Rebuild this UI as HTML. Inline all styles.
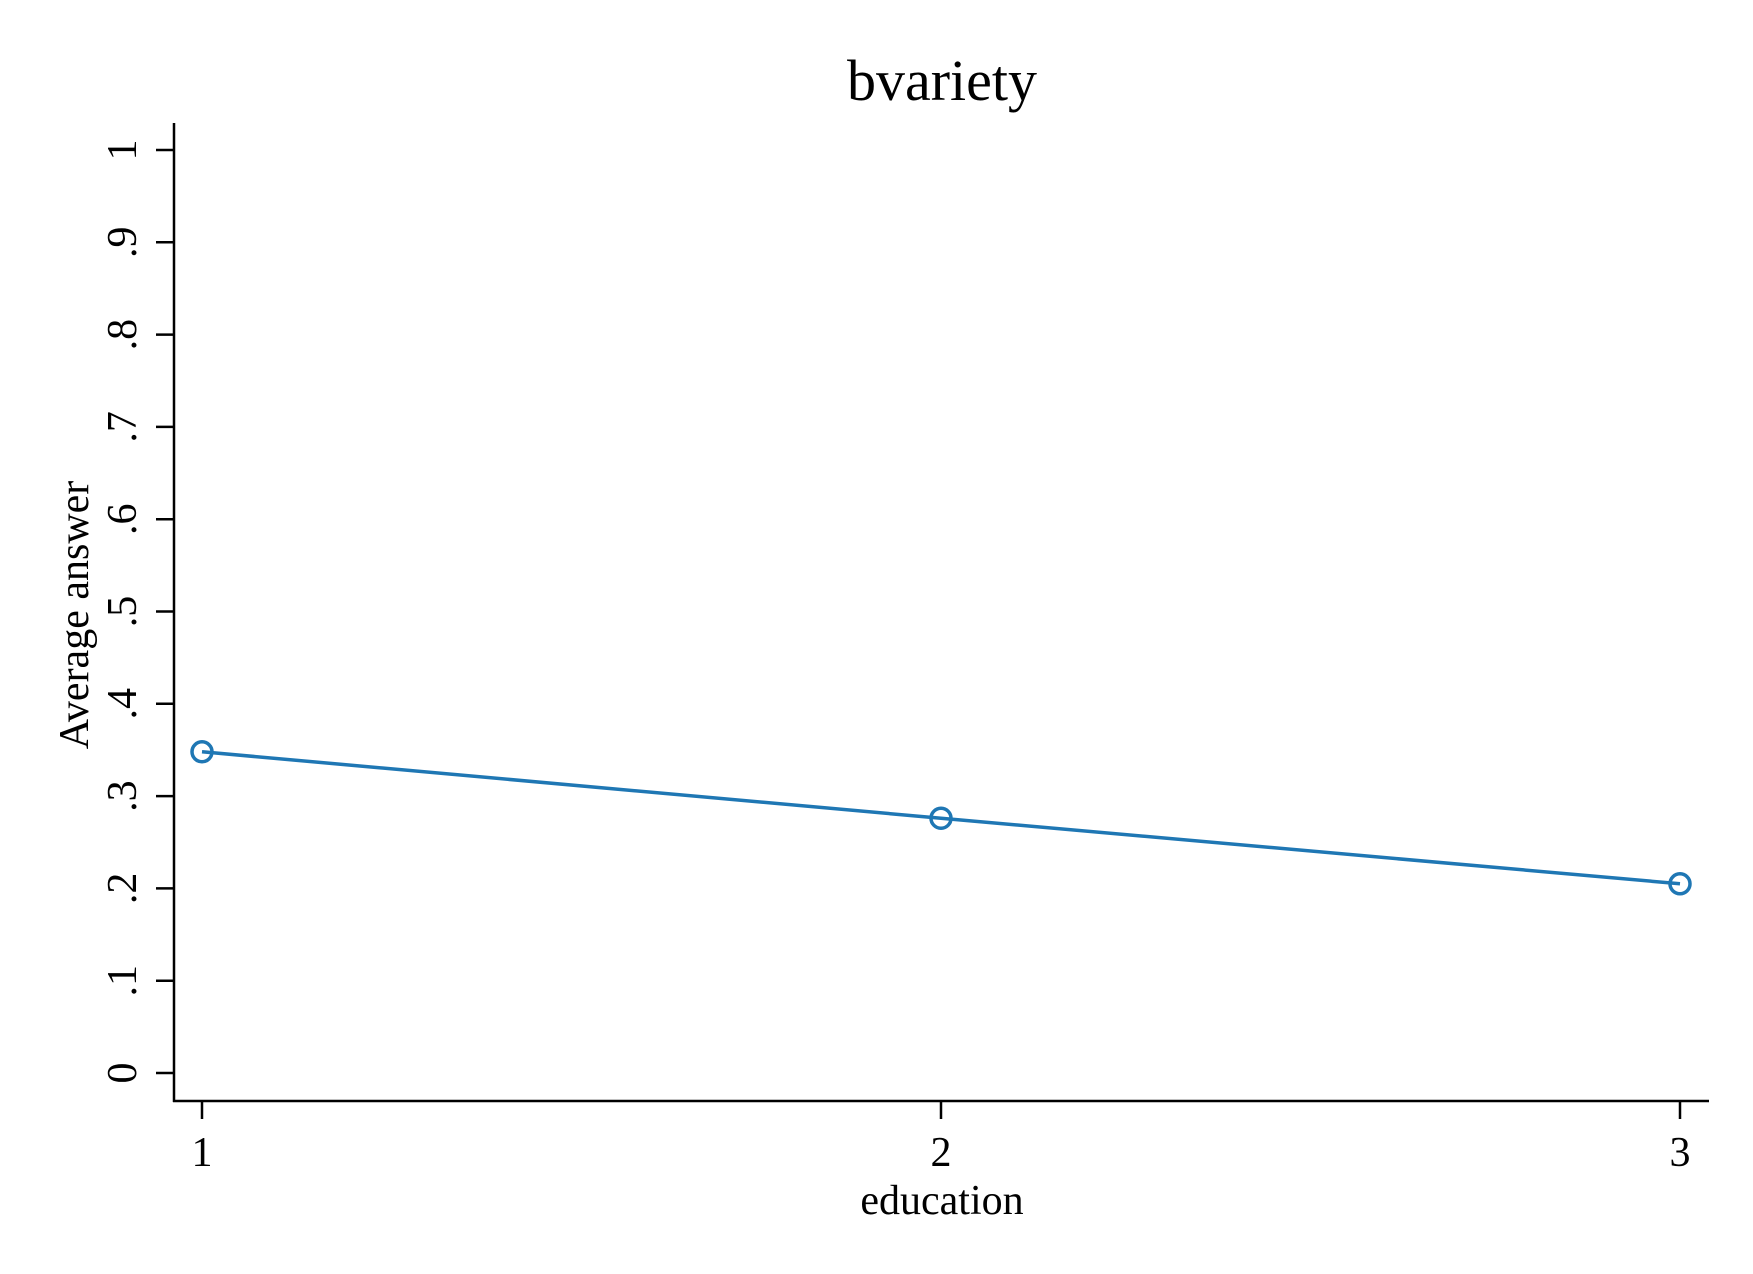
<!DOCTYPE html>
<html><head><meta charset="utf-8"><style>body{margin:0;background:#fff}svg{display:block}text{font-family:"Liberation Serif",serif;fill:#000}</style></head>
<body>
<svg width="1753" height="1274">
<rect width="1753" height="1274" fill="#fff"/>
<g id="g"></g>
</svg>
<script>
const categories=[1,2,3];
const values=[0.348,0.276,0.205];
const yTicks=[0,0.1,0.2,0.3,0.4,0.5,0.6,0.7,0.8,0.9,1];
const yTickLabels=["0",".1",".2",".3",".4",".5",".6",".7",".8",".9","1"];
const xTickLabels=["1","2","3"];
const NS="http://www.w3.org/2000/svg";
const g=document.getElementById('g');
function X(v){return 202+(v-1)*(1680-202)/2;}
function Y(v){return 1073-v*923;}
function mk(t,a,txt){const e=document.createElementNS(NS,t);for(const k in a)e.setAttribute(k,a[k]);if(txt!==undefined)e.textContent=txt;g.appendChild(e);return e;}
let e;
e=mk('text',{x:942,y:100,'font-size':58,'text-anchor':'middle'},'bvariety');


e=mk('line',{x1:174,y1:123,x2:174,y2:1102,stroke:'#000','stroke-width':2.5});


e=mk('line',{x1:173,y1:1101,x2:1709,y2:1101,stroke:'#000','stroke-width':2.5});


yTicks.forEach((v,i)=>{
 e=mk('line',{x1:156,y1:Y(v),x2:174,y2:Y(v),stroke:'#000','stroke-width':2.5});
 
 
 e=mk('text',{x:0,y:0,'font-size':42,'text-anchor':'middle',transform:`translate(136,${Y(v)}) rotate(-90)`},yTickLabels[i]);
 
 
});
categories.forEach((c,i)=>{
 e=mk('line',{x1:X(c),y1:1101,x2:X(c),y2:1119,stroke:'#000','stroke-width':2.5});
 
 
 e=mk('text',{x:X(c),y:1166,'font-size':42,'text-anchor':'middle'},xTickLabels[i]);
 
 
});
e=mk('text',{x:942,y:1214,'font-size':42,'text-anchor':'middle'},'education');


e=mk('text',{x:0,y:0,'font-size':42,'text-anchor':'middle',transform:'translate(88,615) rotate(-90)'},'Average answer');


e=mk('polyline',{points:categories.map((c,i)=>X(c)+','+Y(values[i])).join(' '),fill:'none',stroke:'#1f77b4','stroke-width':3.5});


categories.forEach((c,i)=>{
 e=mk('circle',{cx:X(c),cy:Y(values[i]),r:10,fill:'none',stroke:'#1f77b4','stroke-width':3.5});
 
 
});
</script>
</body></html>
